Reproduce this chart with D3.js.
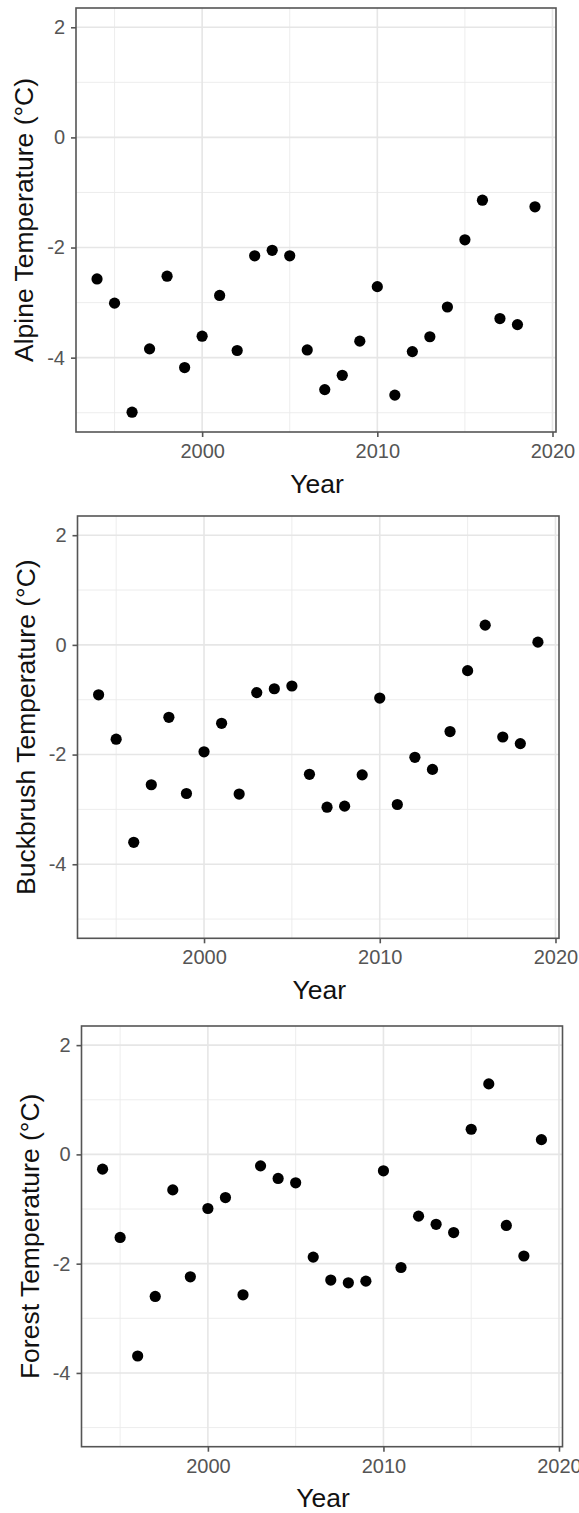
<!DOCTYPE html>
<html>
<head>
<meta charset="utf-8">
<script src="https://cdn.jsdelivr.net/npm/d3@7"></script>
<style>
  html, body { margin: 0; padding: 0; background: #fff; }
  svg { display: block; }
  text { font-family: "Liberation Sans", Arial, Helvetica, sans-serif; }
</style>
</head>
<body>
<svg id="chart" width="579" height="1513"></svg>
<script>
// ---- data ----
const years = [1994,1995,1996,1997,1998,1999,2000,2001,2002,2003,2004,2005,2006,2007,2008,2009,2010,2011,2012,2013,2014,2015,2016,2017,2018,2019];
const alpine = [-2.57,-3.01,-4.99,-3.84,-2.52,-4.18,-3.61,-2.87,-3.87,-2.15,-2.05,-2.15,-3.86,-4.58,-4.32,-3.70,-2.71,-4.68,-3.89,-3.62,-3.08,-1.86,-1.14,-3.29,-3.40,-1.26];
const buckbrush = [-0.91,-1.72,-3.60,-2.55,-1.32,-2.71,-1.95,-1.43,-2.72,-0.87,-0.80,-0.75,-2.36,-2.96,-2.94,-2.37,-0.97,-2.91,-2.05,-2.27,-1.58,-0.47,0.36,-1.68,-1.80,0.05];
const forest = [-0.27,-1.52,-3.69,-2.60,-0.65,-2.24,-0.99,-0.79,-2.57,-0.21,-0.44,-0.52,-1.88,-2.30,-2.35,-2.32,-0.30,-2.07,-1.13,-1.28,-1.43,0.46,1.29,-1.30,-1.86,0.27];
const panelTitles = ["Alpine Temperature (°C)", "Buckbrush Temperature (°C)", "Forest Temperature (°C)"];
const xTitle = "Year";
const yTicks = [-4,-2,0,2];
const yMinor = [-5,-3,-1,1];
const xTicks = [2000,2010,2020];
const xMinor = [1995,2005,2015];
const yDomain = [-5.35, 2.35];
const xDomain = [1992.8, 2020.2];

// ---- layout ----
const panels = [
  {left:76,   right:556,   top:8,    bottom:432,    values: alpine,    title: panelTitles[0]},
  {left:77.5, right:559,   top:516,  bottom:938.3,  values: buckbrush, title: panelTitles[1]},
  {left:81.5, right:562.5, top:1026, bottom:1446.7, values: forest,    title: panelTitles[2]}
];

const svg = d3.select("#chart");
svg.append("rect").attr("width",579).attr("height",1513).attr("fill","#fff");

panels.forEach(p => {
  const x = d3.scaleLinear().domain(xDomain).range([p.left, p.right]);
  const y = d3.scaleLinear().domain(yDomain).range([p.bottom, p.top]);
  const g = svg.append("g");

  // minor grid
  g.selectAll(".ymin").data(yMinor).join("line")
    .attr("x1", p.left).attr("x2", p.right)
    .attr("y1", d => y(d)).attr("y2", d => y(d))
    .attr("stroke", "#ebebeb").attr("stroke-width", 0.9);
  g.selectAll(".xmin").data(xMinor).join("line")
    .attr("y1", p.top).attr("y2", p.bottom)
    .attr("x1", d => x(d)).attr("x2", d => x(d))
    .attr("stroke", "#ebebeb").attr("stroke-width", 0.9);
  // major grid
  g.selectAll(".ymaj").data(yTicks).join("line")
    .attr("x1", p.left).attr("x2", p.right)
    .attr("y1", d => y(d)).attr("y2", d => y(d))
    .attr("stroke", "#e6e6e6").attr("stroke-width", 1.6);
  g.selectAll(".xmaj").data(xTicks).join("line")
    .attr("y1", p.top).attr("y2", p.bottom)
    .attr("x1", d => x(d)).attr("x2", d => x(d))
    .attr("stroke", "#e6e6e6").attr("stroke-width", 1.6);

  // points
  g.selectAll("circle").data(years.map((yr, i) => [yr, p.values[i]])).join("circle")
    .attr("cx", d => x(d[0])).attr("cy", d => y(d[1]))
    .attr("r", 5.6).attr("fill", "#000");

  // border
  g.append("rect")
    .attr("x", p.left).attr("y", p.top)
    .attr("width", p.right - p.left).attr("height", p.bottom - p.top)
    .attr("fill", "none").attr("stroke", "#555").attr("stroke-width", 1.6);

  // axes
  const ax = g.append("g").attr("transform", `translate(0,${p.bottom})`)
    .call(d3.axisBottom(x).tickValues(xTicks).tickFormat(d3.format("d")).tickSize(5).tickPadding(7));
  const ay = g.append("g").attr("transform", `translate(${p.left},0)`)
    .call(d3.axisLeft(y).tickValues(yTicks).tickFormat(d => d < 0 ? "-" + Math.abs(d) : String(d)).tickSize(5).tickPadding(6));
  [ax, ay].forEach(a => {
    a.select(".domain").remove();
    a.selectAll(".tick line").attr("stroke", "#555").attr("stroke-width", 1.6);
    a.selectAll(".tick text").attr("fill", "#555").attr("font-size", 20)
      .attr("font-family", '"Liberation Sans", Arial, sans-serif');
  });

  // axis titles
  g.append("text")
    .attr("x", (p.left + p.right) / 2 + 1).attr("y", p.bottom + 60.5)
    .attr("text-anchor", "middle").attr("font-size", 26.5).attr("fill", "#111")
    .text(xTitle);
  g.append("text")
    .attr("transform", `translate(${p.left - 43},${(p.top + p.bottom) / 2}) rotate(-90)`)
    .attr("text-anchor", "middle").attr("font-size", 26.5).attr("fill", "#111")
    .text(p.title);
});
</script>
</body>
</html>
